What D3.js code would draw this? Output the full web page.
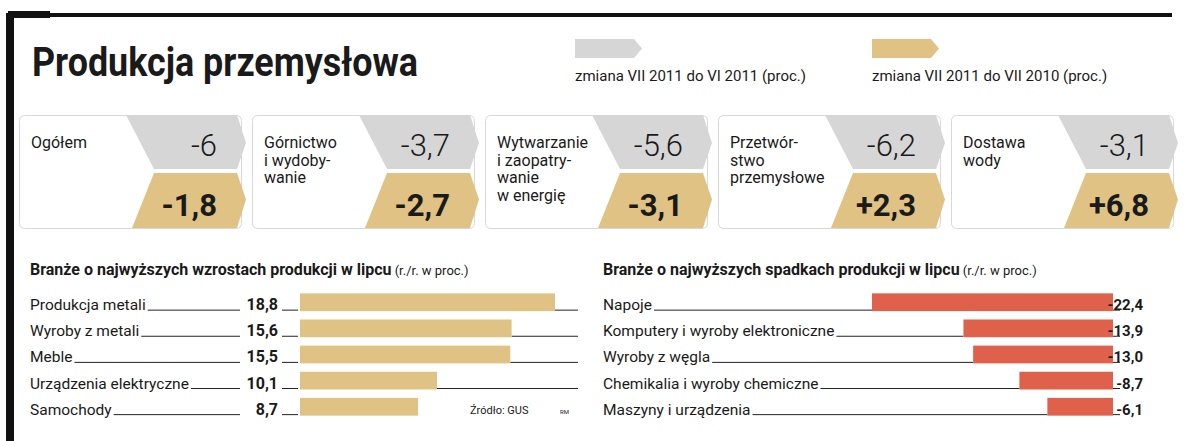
<!DOCTYPE html>
<html lang="pl">
<head>
<meta charset="UTF-8" />
<title>Produkcja przemysłowa</title>
<style>
  body { margin: 0; background: #fff; }
  text { font-family: "Liberation Sans Narrow", "Roboto", sans-serif; fill: #1a1a1a; }
</style>
</head>
<body>
<div id="wrapper"></div>
<script src="https://d3js.org/d3.v7.min.js"></script>
<script>
// top cards
const cardLabels = [
  ["Ogółem"],
  ["Górnictwo", "i wydoby-", "wanie"],
  ["Wytwarzanie", "i zaopatry-", "wanie", "w energię"],
  ["Przetwór-", "stwo", "przemysłowe"],
  ["Dostawa", "wody"]
];
const monthChange = ["-6", "-3,7", "-5,6", "-6,2", "-3,1"];
const yearChange = ["-1,8", "-2,7", "-3,1", "+2,3", "+6,8"];

// bottom bars
const growthNames = ["Produkcja metali", "Wyroby z metali", "Meble", "Urządzenia elektryczne", "Samochody"];
const growthValues = [18.8, 15.6, 15.5, 10.1, 8.7];
const dropNames = ["Napoje", "Komputery i wyroby elektroniczne", "Wyroby z węgla", "Chemikalia i wyroby chemiczne", "Maszyny i urządzenia"];
const dropValues = [-22.4, -13.9, -13.0, -8.7, -6.1];

const W = 1200, H = 441;
const gray = "#d6d6d6", gold = "#e0c384", red = "#e0614b";
const fmt = v => d3.format(".1f")(v).replace(".", ",").replace("−", "-");

const svg = d3.select("#wrapper").append("svg").attr("width", W).attr("height", H);

// frame
svg.append("rect").attr("x", 8).attr("y", 13).attr("width", 1164).attr("height", 4).attr("fill", "#111");
svg.append("rect").attr("x", 8).attr("y", 11).attr("width", 42).attr("height", 7).attr("fill", "#111");
svg.append("rect").attr("x", 6).attr("y", 13).attr("width", 8).attr("height", H).attr("fill", "#111");

svg.append("text").attr("x", 32).attr("y", 76).attr("font-size", 40).attr("font-weight", 700)
  .attr("textLength", 386).attr("lengthAdjust", "spacingAndGlyphs").text("Produkcja przemysłowa");

// legend
const chev = (x, y, w, h, p) => `M${x},${y}H${x + w - p}L${x + w},${y + h / 2}L${x + w - p},${y + h}H${x}Z`;
[[575, gray, "zmiana VII 2011 do VI 2011 (proc.)"], [872, gold, "zmiana VII 2011 do VII 2010 (proc.)"]].forEach(([x, c, t]) => {
  svg.append("path").attr("d", chev(x, 39, 67, 19, 8)).attr("fill", c);
  svg.append("text").attr("x", x).attr("y", 81).attr("font-size", 15).text(t);
});

// cards
const cx = d3.scaleLinear().domain([0, 4]).range([19, 951]);
const cTop = 115, cMid = 171, cBot = 228;
cardLabels.forEach((lab, i) => {
  const x0 = cx(i);
  const g = svg.append("g").attr("transform", `translate(${x0},0)`);
  g.append("rect").attr("x", 0.5).attr("y", cTop + 0.5).attr("width", 222).attr("height", cBot - cTop)
    .attr("rx", 5).attr("fill", "#fff").attr("stroke", "#d8d8d8");
  g.append("path").attr("d", `M107,${cTop}H218L227,${(cTop + cMid) / 2}L218,${cMid - 2}H135Z`).attr("fill", gray);
  g.append("path").attr("d", `M135,${cMid + 2}H218L227,${(cMid + cBot) / 2}L218,${cBot}H113Z`).attr("fill", gold);
  lab.forEach((l, j) => g.append("text").attr("x", 12).attr("y", 148 + j * 17.5).attr("font-size", 16).text(l));
  g.append("text").attr("x", 198).attr("y", 156).attr("text-anchor", "end").attr("font-size", 31)
    .attr("font-weight", 300).text(monthChange[i]);
  g.append("text").attr("x", 198).attr("y", 216).attr("text-anchor", "end").attr("font-size", 31)
    .attr("font-weight", 700).text(yearChange[i]);
});

// bar sections
const rowY = d3.scaleBand().domain(d3.range(5)).range([285, 424]).padding(0.32);

function section(x0, title, names, values, color, side) {
  const t = svg.append("text").attr("x", x0).attr("y", 275).attr("font-size", 16).attr("font-weight", 700);
  t.append("tspan").text(title);
  t.append("tspan").attr("font-size", 13).attr("font-weight", 400).text(" (r./r. w proc.)");
  const g = svg.append("g");
  names.forEach((n, i) => {
    const yc = rowY(i), h = rowY.bandwidth(), yb = yc + h - 1;
    const lbl = g.append("text").attr("x", x0).attr("y", yb).attr("font-size", 15.5).text(n);
    const lw = lbl.node().getComputedTextLength();
    if (side === "left") {
      const x = d3.scaleLinear().domain([0, 18.8]).range([300, 555]);
      g.append("text").attr("x", 278).attr("y", yb).attr("text-anchor", "end").attr("font-size", 16)
        .attr("font-weight", 700).text(fmt(values[i]));
      g.append("line").attr("x1", x0 + lw + 2).attr("x2", 240).attr("y1", yb).attr("y2", yb).attr("stroke", "#222");
      g.append("line").attr("x1", 282).attr("x2", 298).attr("y1", yb).attr("y2", yb).attr("stroke", "#222");
      if (i < 4) g.append("line").attr("x1", x(values[i])).attr("x2", 578).attr("y1", yb).attr("y2", yb).attr("stroke", "#222");
      g.append("rect").attr("x", x(0)).attr("y", yc).attr("width", x(values[i]) - x(0)).attr("height", h).attr("fill", color);
    } else {
      const x = d3.scaleLinear().domain([-22.4, 0]).range([872, 1113]);
      g.append("line").attr("x1", x0 + lw + 2).attr("x2", x(values[i])).attr("y1", yb).attr("y2", yb).attr("stroke", "#222");
      g.append("line").attr("x1", x(0)).attr("x2", 1120).attr("y1", yb).attr("y2", yb).attr("stroke", "#222");
      g.append("rect").attr("x", x(values[i])).attr("y", yc).attr("width", x(0) - x(values[i])).attr("height", h).attr("fill", color);
      g.append("text").attr("x", 1143).attr("y", yb).attr("text-anchor", "end").attr("font-size", 15)
        .attr("font-weight", 700).text(fmt(values[i]));
    }
  });
}
section(30, "Branże o najwyższych wzrostach produkcji w lipcu", growthNames, growthValues, gold, "left");
section(603, "Branże o najwyższych spadkach produkcji w lipcu", dropNames, dropValues, red, "right");

svg.append("text").attr("x", 470).attr("y", 414).attr("font-size", 11).text("Źródło: GUS");
svg.append("text").attr("x", 560).attr("y", 414).attr("font-size", 6).text("RM");
</script>
</body>
</html>
